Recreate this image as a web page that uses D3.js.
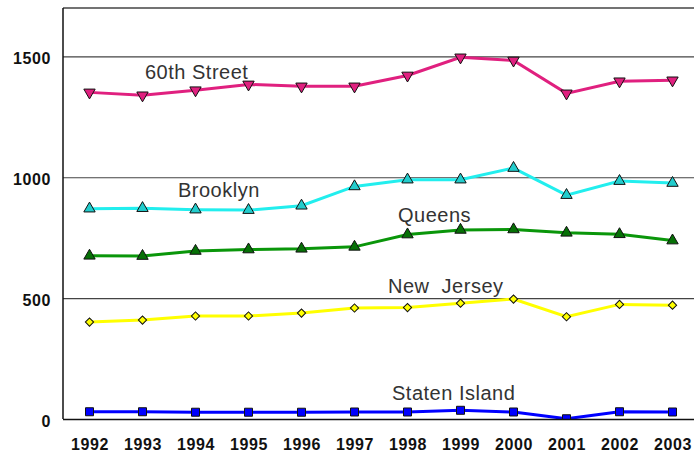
<!DOCTYPE html>
<html>
<head>
<meta charset="utf-8">
<script src="https://cdn.jsdelivr.net/npm/d3@7"></script>
<style>
  body { margin: 0; background: #fff; }
  svg { display: block; font-family: "Liberation Sans", Arial, sans-serif; }
  .tick text { font-family: "Liberation Sans", Arial, sans-serif; font-weight: bold; font-size: 16px; letter-spacing: 0.6px; fill: #111; }
  .series-label { font-size: 20px; fill: #333; letter-spacing: 0.5px; }
</style>
</head>
<body>
<svg id="chart" width="694" height="453"></svg>
<script>
// data
var years = [1992, 1993, 1994, 1995, 1996, 1997, 1998, 1999, 2000, 2001, 2002, 2003];
var sixtieth = [1351, 1339, 1360, 1384, 1376, 1376, 1421, 1496, 1483, 1347, 1397, 1401];
var brooklyn = [870, 872, 866, 864, 882, 962, 990, 990, 1038, 926, 984, 976];
var queens = [675, 674, 695, 701, 704, 712, 763, 782, 784, 770, 764, 738];
var newJersey = [401, 409, 426, 426, 438, 459, 461, 479, 496, 423, 474, 471];
var statenIsland = [30, 30, 28, 28, 28, 29, 29, 36, 29, 1, 30, 29];
var yTicks = [0, 500, 1000, 1500];

var series = [
  {name: "60th Street", values: sixtieth, line: "#e0207f", fill: "#e0207f", symbol: "down", lx: 145, ly: 79},
  {name: "Brooklyn", values: brooklyn, line: "#22eeee", fill: "#22cccc", symbol: "up", lx: 178, ly: 197},
  {name: "Queens", values: queens, line: "#0a960a", fill: "#067006", symbol: "up", lx: 398, ly: 222},
  {name: "New\u00a0 Jersey", values: newJersey, line: "#ffff00", fill: "#ffff00", symbol: "diamond", lx: 388, ly: 293},
  {name: "Staten Island", values: statenIsland, line: "#0000ff", fill: "#0000ff", symbol: "square", lx: 392, ly: 400}
];

var svg = d3.select("#chart"),
    margin = {top: 8, left: 63, right: -5, bottom: 34},
    width = +svg.attr("width"),
    height = +svg.attr("height");

var x = d3.scalePoint()
    .domain(years)
    .range([margin.left, width - margin.right])
    .padding(0.5);

var y = d3.scaleLinear()
    .domain([0, 1700])
    .range([height - margin.bottom, margin.top]);

// clip marks at the baseline
svg.append("defs").append("clipPath")
    .attr("id", "plot-clip")
  .append("rect")
    .attr("x", margin.left)
    .attr("y", 0)
    .attr("width", width - margin.left)
    .attr("height", y(0) + 0.5);

// gridlines
svg.append("g")
  .selectAll("line")
  .data(yTicks.slice(1))
  .enter().append("line")
    .attr("x1", margin.left)
    .attr("x2", width)
    .attr("y1", d => y(d) + 0.5)
    .attr("y2", d => y(d) + 0.5)
    .attr("stroke", "#444")
    .attr("stroke-width", 1.2);

// frame (top + left + baseline)
svg.append("line")
  .attr("x1", margin.left).attr("x2", width)
  .attr("y1", margin.top).attr("y2", margin.top)
  .attr("stroke", "#444").attr("stroke-width", 1.5);
svg.append("line")
  .attr("x1", margin.left).attr("x2", margin.left)
  .attr("y1", margin.top).attr("y2", y(0))
  .attr("stroke", "#111").attr("stroke-width", 1.5);

// axes (labels only)
var yAxis = svg.append("g")
  .attr("transform", "translate(" + (margin.left - 12) + ",2)")
  .call(d3.axisLeft(y).tickValues(yTicks).tickSize(0).tickPadding(0).tickFormat(d3.format("d")));
yAxis.select(".domain").remove();

var xAxis = svg.append("g")
  .attr("transform", "translate(0," + (y(0) + 20) + ")")
  .call(d3.axisBottom(x).tickSize(0).tickPadding(0).tickFormat(d3.format("d")));
xAxis.select(".domain").remove();

var line = d3.line()
    .x((d, i) => x(years[i]))
    .y(d => y(d));

var tri = d3.symbol().type(d3.symbolTriangle).size(56),
    sq = d3.symbol().type(d3.symbolSquare).size(64),
    dia = d3.symbol().type(d3.symbolSquare).size(34);

var plot = svg.append("g").attr("clip-path", "url(#plot-clip)");

series.forEach(function (s) {
  var g = plot.append("g");
  g.append("path")
    .attr("d", line(s.values))
    .attr("fill", "none")
    .attr("stroke", s.line)
    .attr("stroke-width", 3);

  g.selectAll("path.pt")
    .data(s.values)
    .enter().append("path")
      .attr("class", "pt")
      .attr("d", s.symbol === "square" ? sq : s.symbol === "diamond" ? dia : tri)
      .attr("transform", (d, i) => "translate(" + x(years[i]) + "," + y(d) + ")" +
            (s.symbol === "down" ? " rotate(180)" : s.symbol === "diamond" ? " rotate(45)" : ""))
      .attr("fill", s.fill)
      .attr("stroke", "#111")
      .attr("stroke-width", 1);

  svg.append("text")
    .attr("class", "series-label")
    .attr("x", s.lx)
    .attr("y", s.ly)
    .text(s.name);
});

// baseline on top
svg.append("line")
  .attr("x1", margin.left).attr("x2", width)
  .attr("y1", y(0) + 0.5).attr("y2", y(0) + 0.5)
  .attr("stroke", "#111").attr("stroke-width", 1.5);
</script>
</body>
</html>
